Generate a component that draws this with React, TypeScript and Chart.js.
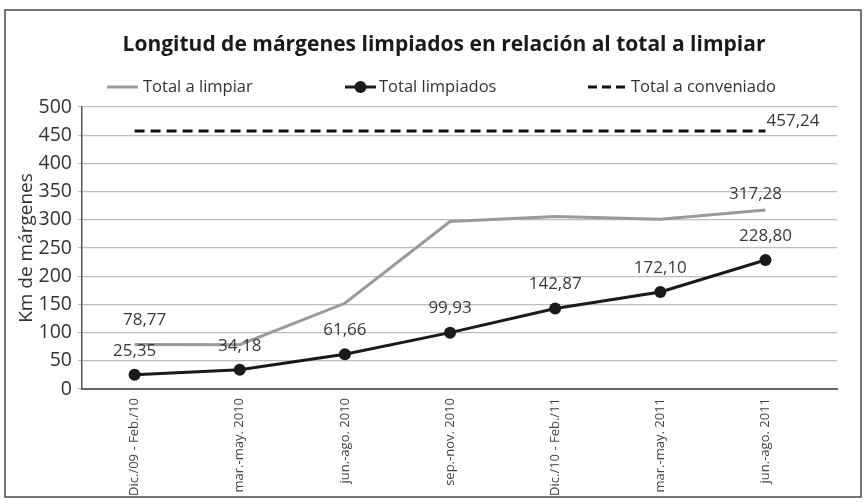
import React, { useEffect, useRef } from "react";
import { Chart, registerables } from "chart.js";

Chart.register(...registerables);

const TITLE = "Longitud de márgenes limpiados en relación al total a limpiar";
const Y_TITLE = "Km de márgenes";
const categories = [
  "Dic./09 - Feb./10",
  "mar.-may. 2010",
  "jun.-ago. 2010",
  "sep.-nov. 2010",
  "Dic./10 - Feb./11",
  "mar.-may. 2011",
  "jun.-ago. 2011",
];
const totalALimpiar = [78.77, 78.5, 152.0, 297.0, 306.0, 301.0, 317.28];
const totalLimpiados = [25.35, 34.18, 61.66, 99.93, 142.87, 172.1, 228.8];
const totalConveniado = [457.24, 457.24, 457.24, 457.24, 457.24, 457.24, 457.24];
const yTicks = [0, 50, 100, 150, 200, 250, 300, 350, 400, 450, 500];
const seriesNames = ["Total a limpiar", "Total limpiados", "Total a conveniado"];

const FONT = '"Open Sans", "DejaVu Sans", sans-serif';
const GRAY = "#9a9a9a";
const BLACK = "#1a1a1a";

const fmt = (v: number) => v.toFixed(2).replace(".", ",");

// label placement per dataset: which points get labels, and offset from the point
const labelSpecs: Record<number, { idx: number; dx: number; dy: number; align: CanvasTextAlign }[]> = {
  0: totalLimpiados.map((_, i) => ({ idx: i, dx: 0, dy: -24, align: "center" as CanvasTextAlign })),
  1: [{ idx: 6, dx: 1, dy: -10, align: "left" }],
  2: [
    { idx: 0, dx: 10, dy: -24, align: "center" },
    { idx: 6, dx: -10, dy: -16, align: "center" },
  ],
};

const labelPlugin = {
  id: "valueLabels",
  afterDatasetsDraw(chart: any) {
    const ctx = chart.ctx as CanvasRenderingContext2D;
    ctx.save();
    ctx.font = `17px ${FONT}`;
    ctx.fillStyle = "#3a3a3a";
    ctx.textBaseline = "middle";
    chart.data.datasets.forEach((ds: any, di: number) => {
      const meta = chart.getDatasetMeta(di);
      (labelSpecs[di] || []).forEach((s) => {
        const el = meta.data[s.idx];
        if (!el) return;
        ctx.textAlign = s.align;
        ctx.fillText(fmt(ds.data[s.idx].y), el.x + s.dx, el.y + s.dy);
      });
    });
    ctx.restore();
  },
};

const decorPlugin = {
  id: "decor",
  afterDraw(chart: any) {
    const ctx = chart.ctx as CanvasRenderingContext2D;
    ctx.save();
    // outer frame
    ctx.strokeStyle = "#444";
    ctx.lineWidth = 1.5;
    ctx.strokeRect(5, 10, 856, 487);
    // title
    ctx.fillStyle = BLACK;
    ctx.font = `bold 21px ${FONT}`;
    ctx.textAlign = "center";
    ctx.textBaseline = "middle";
    ctx.fillText(TITLE, 444, 45);
    // legend
    const ly = 87;
    ctx.font = `16.5px ${FONT}`;
    ctx.textAlign = "left";
    ctx.fillStyle = "#333";
    // item 1: gray line
    ctx.lineWidth = 3;
    ctx.strokeStyle = GRAY;
    ctx.beginPath();
    ctx.moveTo(107, ly);
    ctx.lineTo(138, ly);
    ctx.stroke();
    ctx.fillText(seriesNames[0], 143, ly);
    // item 2: black line with marker
    ctx.strokeStyle = BLACK;
    ctx.beginPath();
    ctx.moveTo(345, ly);
    ctx.lineTo(376, ly);
    ctx.stroke();
    ctx.fillStyle = BLACK;
    ctx.beginPath();
    ctx.arc(360.5, ly, 6, 0, Math.PI * 2);
    ctx.fill();
    ctx.fillStyle = "#333";
    ctx.fillText(seriesNames[1], 379, ly);
    // item 3: dashed
    ctx.strokeStyle = "#111";
    ctx.setLineDash([9, 5]);
    ctx.beginPath();
    ctx.moveTo(588, ly);
    ctx.lineTo(628, ly);
    ctx.stroke();
    ctx.setLineDash([]);
    ctx.fillText(seriesNames[2], 631, ly);
    ctx.restore();
  },
};

export default function App() {
  const ref = useRef<HTMLCanvasElement | null>(null);
  useEffect(() => {
    if (!ref.current) return;
    Chart.defaults.font.family = FONT;
    const toPts = (arr: number[]) => arr.map((y, i) => ({ x: i, y }));
    const chart = new Chart(ref.current, {
      type: "line",
      data: {
        datasets: [
          {
            label: seriesNames[1],
            data: toPts(totalLimpiados),
            borderColor: BLACK,
            backgroundColor: BLACK,
            borderWidth: 3,
            pointRadius: 6,
            pointBackgroundColor: BLACK,
            pointBorderWidth: 0,
            tension: 0,
          },
          {
            label: seriesNames[2],
            data: toPts(totalConveniado),
            borderColor: "#111",
            borderWidth: 3,
            borderDash: [10, 6],
            pointRadius: 0,
            tension: 0,
          },
          {
            label: seriesNames[0],
            data: toPts(totalALimpiar),
            borderColor: GRAY,
            borderWidth: 3,
            pointRadius: 0,
            tension: 0,
          },
        ],
      },
      options: {
        animation: false,
        responsive: false,
        devicePixelRatio: 1,
        layout: { padding: { left: 0, top: 107, right: 30, bottom: 0 } },
        plugins: {
          legend: { display: false },
          title: { display: false },
          tooltip: { enabled: false },
        },
        scales: {
          x: {
            type: "linear",
            min: -0.5,
            max: 6.68,
            afterBuildTicks: (s: any) => {
              s.ticks = categories.map((_, i) => ({ value: i }));
            },
            afterFit: (s: any) => {
              s.height = 114;
            },
            grid: { display: false, drawTicks: false },
            border: { display: true, color: "#666", width: 2 },
            ticks: {
              autoSkip: false,
              minRotation: 90,
              maxRotation: 90,
              padding: 9,
              font: { size: 13 },
              color: "#444",
              callback: (v: any) => categories[v] ?? "",
            },
          },
          y: {
            min: 0,
            max: 500,
            afterBuildTicks: (s: any) => {
              s.ticks = yTicks.map((v) => ({ value: v }));
            },
            afterFit: (s: any) => {
              s.width = 82;
            },
            grid: { color: "#bdbdbd", lineWidth: 1.2, tickLength: 4 },
            border: { color: "#555", width: 1.5 },
            ticks: { padding: 6, font: { size: 19.5 }, color: "#333" },
            title: {
              display: true,
              text: Y_TITLE,
              font: { size: 19 },
              color: "#333",
              padding: { top: 15, bottom: 0 },
            },
          },
        },
      },
      plugins: [labelPlugin, decorPlugin],
    });
    return () => chart.destroy();
  }, []);
  return (
    <div style={{ position: "fixed", left: 0, top: 0, width: 867, height: 503, background: "#fff" }}>
      <canvas ref={ref} width={867} height={503} style={{ display: "block", width: 867, height: 503 }} />
    </div>
  );
}
